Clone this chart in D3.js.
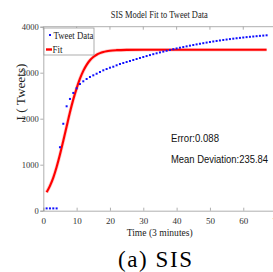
<!DOCTYPE html>
<html>
<head>
<meta charset="utf-8">
<script src="https://cdn.jsdelivr.net/npm/d3@7"></script>
<style>
  body { margin: 0; background: #fff; }
  svg { display: block; }
</style>
</head>
<body>
<div id="chart"></div>
<script>
const width = 273;
const height = 272;

// tweet counts, one sample every 3 minutes (t = 1..67)
const tweetCount = [
  50, 50, 50, 50, 1380, 1890, 2270, 2430, 2560, 2660,
  2754, 2813, 2863, 2907, 2943, 2978, 3015, 3052, 3080, 3109,
  3130, 3161, 3189, 3211, 3233, 3254, 3276, 3298, 3320, 3341,
  3362, 3383, 3403, 3422, 3441, 3459, 3477, 3494, 3511, 3527,
  3543, 3558, 3573, 3588, 3602, 3616, 3629, 3642, 3655, 3667,
  3679, 3690, 3701, 3711, 3721, 3731, 3740, 3749, 3757, 3765,
  3773, 3780, 3787, 3794, 3801, 3807, 3813
];
const tweetTime = tweetCount.map((d, i) => i + 1);

// SIS fit curve
const fitTime  = [1, 2, 3, 4, 5, 6, 7, 8, 9, 10, 11, 12, 13, 14, 15, 16, 17, 18, 19, 20, 22, 25, 30, 40, 50, 60, 67];
const fitValue = [400, 540, 720, 950, 1220, 1520, 1830, 2140, 2420, 2660, 2870, 3040, 3170, 3270, 3340, 3390, 3425, 3450, 3467, 3478, 3490, 3497, 3500, 3500, 3500, 3500, 3500];

const xTicks = [0, 10, 20, 30, 40, 50, 60, 70];
const yTicks = [0, 1000, 2000, 3000, 4000];

const errorText = "Error:0.088";
const devText = "Mean Deviation:235.84";

const serif = "'Liberation Serif', 'Times New Roman', serif";
const sans = "'Liberation Sans', Arial, sans-serif";
const axisGray = "#9a9a9a";

const svg = d3.select("#chart").append("svg")
  .attr("width", width)
  .attr("height", height);

const x = d3.scaleLinear().domain([0, 70]).range([43.3, 276.6]);
const y = d3.scaleLinear().domain([0, 4000]).range([210.7, 26.7]);

// box: top and right borders
svg.append("line")
  .attr("x1", x(0)).attr("x2", x(70))
  .attr("y1", y(4000)).attr("y2", y(4000))
  .attr("stroke", axisGray).attr("stroke-width", 0.8);
svg.append("line")
  .attr("x1", x(70)).attr("x2", x(70))
  .attr("y1", y(0)).attr("y2", y(4000))
  .attr("stroke", axisGray).attr("stroke-width", 0.8);

// top inward ticks
svg.append("g").selectAll("line")
  .data(xTicks)
  .join("line")
    .attr("x1", d => x(d)).attr("x2", d => x(d))
    .attr("y1", y(4000)).attr("y2", y(4000) + 3)
    .attr("stroke", axisGray).attr("stroke-width", 0.8);

// x axis
const xAxis = svg.append("g")
  .attr("transform", `translate(0,${y(0)})`)
  .call(d3.axisBottom(x).tickValues(xTicks).tickSize(-3).tickPadding(7));
xAxis.select(".domain").attr("stroke", axisGray).attr("stroke-width", 0.8);
xAxis.selectAll(".tick line").attr("stroke", axisGray).attr("stroke-width", 0.8);
xAxis.selectAll("text")
  .attr("font-family", serif)
  .attr("font-size", 9)
  .attr("fill", "#333");

// y axis
const yAxis = svg.append("g")
  .attr("transform", `translate(${x(0)},0)`)
  .call(d3.axisLeft(y).tickValues(yTicks).tickSize(3).tickPadding(1.5).tickFormat(d3.format("d")));
yAxis.select(".domain").attr("stroke", axisGray).attr("stroke-width", 0.8);
yAxis.selectAll(".tick line").attr("stroke", axisGray).attr("stroke-width", 0.8);
yAxis.selectAll("text")
  .attr("font-family", serif)
  .attr("font-size", 8.5)
  .attr("fill", "#333");

// fit line
const line = d3.line()
  .x(d => x(d[0]))
  .y(d => y(d[1]))
  .curve(d3.curveMonotoneX);

const fitData = fitTime.map((t, i) => [t, fitValue[i]]);

svg.append("path")
  .datum(fitData)
  .attr("d", line)
  .attr("fill", "none")
  .attr("stroke", "#ff0000")
  .attr("stroke-opacity", 0.2)
  .attr("stroke-width", 3.6);
svg.append("path")
  .datum(fitData)
  .attr("d", line)
  .attr("fill", "none")
  .attr("stroke", "#ff0000")
  .attr("stroke-width", 2.1);

// tweet data dots
svg.append("g").selectAll("rect")
  .data(tweetTime.map((t, i) => [t, tweetCount[i]]))
  .join("rect")
    .attr("x", d => x(d[0]) - 1)
    .attr("y", d => y(d[1]) - 1)
    .attr("width", 2)
    .attr("height", 2)
    .attr("fill", "#1010ff");

// legend
const legend = svg.append("g");
legend.append("rect")
  .attr("x", 44).attr("y", 28)
  .attr("width", 50).attr("height", 27)
  .attr("fill", "#fff")
  .attr("stroke", axisGray)
  .attr("stroke-width", 0.8);
legend.append("rect")
  .attr("x", 49).attr("y", 34)
  .attr("width", 2).attr("height", 2)
  .attr("fill", "#1010ff");
legend.append("text")
  .attr("x", 53.5).attr("y", 38.5)
  .attr("font-family", serif)
  .attr("font-size", 10.5)
  .attr("textLength", 40)
  .attr("lengthAdjust", "spacingAndGlyphs")
  .attr("fill", "#222")
  .text("Tweet Data");
legend.append("line")
  .attr("x1", 46).attr("x2", 52)
  .attr("y1", 49.5).attr("y2", 49.5)
  .attr("stroke", "#ff0000")
  .attr("stroke-width", 2.4);
legend.append("text")
  .attr("x", 52.5).attr("y", 53)
  .attr("font-family", serif)
  .attr("font-size", 10.5)
  .attr("textLength", 10)
  .attr("lengthAdjust", "spacingAndGlyphs")
  .attr("fill", "#222")
  .text("Fit");

// title
svg.append("text")
  .attr("x", 159.3).attr("y", 18)
  .attr("text-anchor", "middle")
  .attr("font-family", serif)
  .attr("font-size", 10.5)
  .attr("textLength", 97)
  .attr("lengthAdjust", "spacingAndGlyphs")
  .attr("fill", "#222")
  .text("SIS Model Fit to Tweet Data");

// axis labels
svg.append("text")
  .attr("transform", "translate(24.5,92) rotate(-90)")
  .attr("text-anchor", "middle")
  .attr("font-family", serif)
  .attr("font-size", 12)
  .attr("textLength", 57)
  .attr("lengthAdjust", "spacingAndGlyphs")
  .attr("fill", "#222")
  .text("I ( Tweets)");

svg.append("text")
  .attr("x", 159.7).attr("y", 236)
  .attr("text-anchor", "middle")
  .attr("font-family", serif)
  .attr("font-size", 11)
  .attr("textLength", 66)
  .attr("lengthAdjust", "spacingAndGlyphs")
  .attr("fill", "#222")
  .text("Time (3 minutes)");

// annotations
svg.append("text")
  .attr("x", 171).attr("y", 142)
  .attr("font-family", sans)
  .attr("font-size", 11)
  .attr("textLength", 48)
  .attr("lengthAdjust", "spacingAndGlyphs")
  .attr("fill", "#111")
  .text(errorText);
svg.append("text")
  .attr("x", 171).attr("y", 162.5)
  .attr("font-family", sans)
  .attr("font-size", 11)
  .attr("textLength", 97)
  .attr("lengthAdjust", "spacingAndGlyphs")
  .attr("fill", "#111")
  .text(devText);

// caption
svg.append("text")
  .attr("x", 155).attr("y", 267)
  .attr("text-anchor", "middle")
  .attr("font-family", serif)
  .attr("font-size", 23)
  .attr("textLength", 74)
  .attr("lengthAdjust", "spacing")
  .attr("fill", "#000")
  .text("(a) SIS");
</script>
</body>
</html>
